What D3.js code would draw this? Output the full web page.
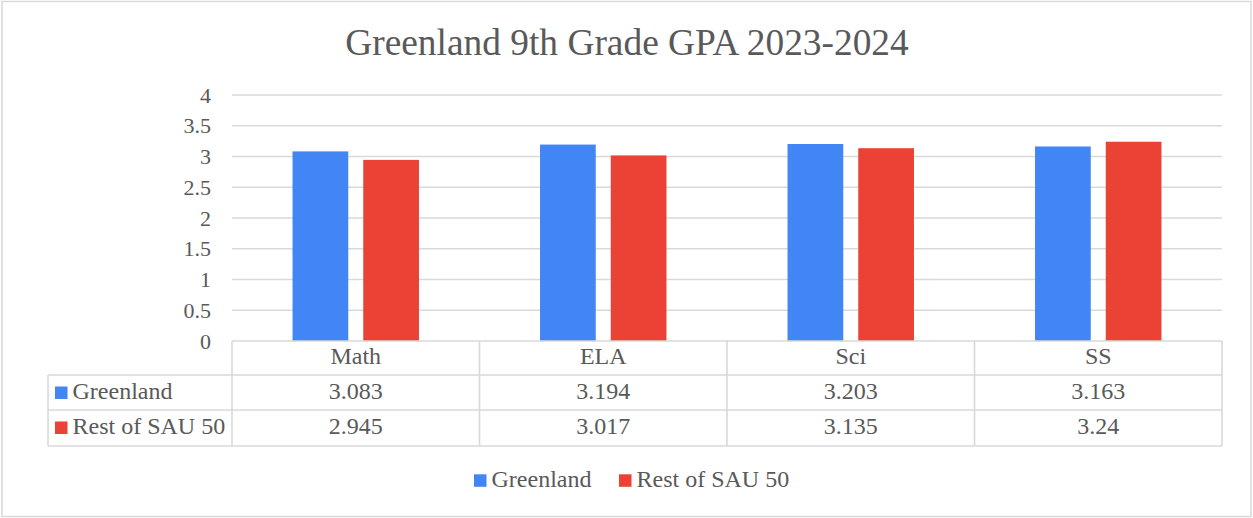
<!DOCTYPE html>
<html>
<head>
<meta charset="utf-8">
<script src="https://cdn.jsdelivr.net/npm/d3@7"></script>
<style>
  body { margin: 0; background: #fff; }
  #chart text { font-family: "Liberation Serif", "Times New Roman", Times, serif !important; }
</style>
</head>
<body>
<svg id="chart" width="1253" height="518"></svg>
<script>
var categories = ["Math", "ELA", "Sci", "SS"];
var seriesNames = ["Greenland", "Rest of SAU 50"];
var greenland = [3.083, 3.194, 3.203, 3.163];
var restOfSau = [2.945, 3.017, 3.135, 3.24];
var tableLabels = [["3.083", "3.194", "3.203", "3.163"], ["2.945", "3.017", "3.135", "3.24"]];
var yTicks = [0, 0.5, 1, 1.5, 2, 2.5, 3, 3.5, 4];
var colors = ["#4285F4", "#EA4335"];

(function(){
	"use strict";

	var svg = d3.select("#chart");
	var left = 232, right = 1222, top = 95, bottom = 341;
	var rowY = [341, 375, 410, 446];
	var lineColor = "#d9d9d9";
	var textColor = "#595959";
	var series = [greenland, restOfSau];

	function label(sel, size) {
		return sel.style("font-family", "'Liberation Serif', 'Times New Roman', serif", "important")
			.style("font-size", size + "px")
			.style("fill", textColor);
	}

	// outer frame
	svg.append("rect")
		.attr("x", 2).attr("y", 1.5)
		.attr("width", 1249).attr("height", 515)
		.attr("fill", "none")
		.attr("stroke", lineColor)
		.attr("stroke-width", 1.5);

	label(svg.append("text"), 37.4)
		.attr("x", 627).attr("y", 55)
		.attr("text-anchor", "middle")
		.text("Greenland 9th Grade GPA 2023-2024");

	var x = d3.scaleBand().domain(categories).range([left, right]);
	var y = d3.scaleLinear().domain([0, 4]).range([bottom, top]);
	var xs = d3.scaleBand().domain(seriesNames)
		.range([0, x.bandwidth()])
		.paddingInner(0.212).paddingOuter(0.856);

	// gridlines + y labels
	svg.append("g").selectAll("line")
		.data(yTicks.filter(function(d) { return d > 0; }))
		.enter().append("line")
		.attr("x1", left).attr("x2", right)
		.attr("y1", function(d) { return y(d); })
		.attr("y2", function(d) { return y(d); })
		.attr("stroke", lineColor)
		.attr("stroke-width", 1.3);

	label(svg.append("g").selectAll("text")
		.data(yTicks)
		.enter().append("text"), 22)
		.attr("x", 211)
		.attr("y", function(d) { return y(d); })
		.attr("dy", "0.35em")
		.attr("text-anchor", "end")
		.text(function(d) { return d; });

	// bars
	series.forEach(function(vals, s) {
		svg.append("g").selectAll("rect")
			.data(vals)
			.enter().append("rect")
			.attr("x", function(d, i) { return x(categories[i]) + xs(seriesNames[s]); })
			.attr("y", function(d) { return y(d); })
			.attr("width", xs.bandwidth())
			.attr("height", function(d) { return y(0) - y(d); })
			.attr("fill", colors[s]);
	});

	// data table
	var tg = svg.append("g")
		.attr("stroke", lineColor)
		.attr("stroke-width", 1.6);
	tg.append("line").attr("x1", left).attr("x2", right).attr("y1", rowY[0]).attr("y2", rowY[0]);
	[1, 2, 3].forEach(function(r) {
		tg.append("line").attr("x1", 48).attr("x2", right).attr("y1", rowY[r]).attr("y2", rowY[r]);
	});
	tg.append("line").attr("x1", 48).attr("x2", 48).attr("y1", rowY[1]).attr("y2", rowY[3]);
	categories.forEach(function(c) {
		tg.append("line").attr("x1", x(c)).attr("x2", x(c)).attr("y1", rowY[0]).attr("y2", rowY[3]);
	});
	tg.append("line").attr("x1", right).attr("x2", right).attr("y1", rowY[0]).attr("y2", rowY[3]);

	label(svg.append("g").selectAll("text")
		.data(categories)
		.enter().append("text"), 24)
		.attr("x", function(d) { return x(d) + x.bandwidth() / 2; })
		.attr("y", 364)
		.attr("text-anchor", "middle")
		.text(function(d) { return d; });

	var baselines = [399, 434];
	tableLabels.forEach(function(row, s) {
		label(svg.append("g").selectAll("text")
			.data(row)
			.enter().append("text"), 24)
			.attr("x", function(d, i) { return x(categories[i]) + x.bandwidth() / 2; })
			.attr("y", baselines[s])
			.attr("text-anchor", "middle")
			.text(function(d) { return d; });
		svg.append("rect")
			.attr("x", 55).attr("y", baselines[s] - 12.5)
			.attr("width", 12.5).attr("height", 12.5)
			.attr("fill", colors[s]);
		label(svg.append("text"), 24)
			.attr("x", 72.5).attr("y", baselines[s])
			.text(seriesNames[s]);
	});

	// legend
	var legendX = [474, 619];
	seriesNames.forEach(function(name, s) {
		svg.append("rect")
			.attr("x", legendX[s]).attr("y", 474.3)
			.attr("width", 12.5).attr("height", 12.5)
			.attr("fill", colors[s]);
		label(svg.append("text"), 24)
			.attr("x", legendX[s] + 17.5).attr("y", 486.7)
			.text(name);
	});
})();
</script>
</body>
</html>
